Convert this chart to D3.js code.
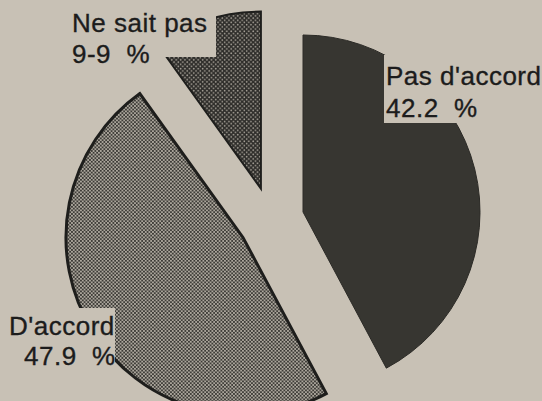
<!DOCTYPE html>
<html>
<head>
<meta charset="utf-8">
<script src="https://cdn.jsdelivr.net/npm/d3@7"></script>
<style>
    body { margin: 0; background: #c8c1b5; }
    text { font-family: "Liberation Sans", Arial, sans-serif; font-size: 26px; fill: #1c1c1c; stroke: #1c1c1c; stroke-width: 0.35px; letter-spacing: 0.5px; }
</style>
</head>
<body>
<svg id="pie" width="542" height="401"></svg>
<script>
// Slices go clockwise from 12 o'clock, in this order
var categories = ["Pas d'accord", "D'accord", "Ne sait pas"];
var values = [42.2, 47.9, 9.9];
// Percent labels as printed (the paper has "9-9")
var pctLabels = ["42.2", "47.9", "9-9"];

function drawPie() {
    var svg = d3.select("#pie");
    var bg = "#c8c1b5";
    var radius = 177, explode = 33;
    var cx = 271, cy = 220;

    // Halftone screens
    var defs = svg.append("defs");
    var light = defs.append("pattern").attr("id", "lightdots").attr("patternUnits", "userSpaceOnUse")
        .attr("width", 3.6).attr("height", 3.6);
    light.append("rect").attr("width", 3.6).attr("height", 3.6).attr("fill", "#bdb7ac");
    [[0, 0], [3.6, 0], [0, 3.6], [3.6, 3.6], [1.8, 1.8]].forEach(p => {
        light.append("circle").attr("cx", p[0]).attr("cy", p[1]).attr("r", 1.05).attr("fill", "#34332f");
    });
    var dark = defs.append("pattern").attr("id", "darkdots").attr("patternUnits", "userSpaceOnUse")
        .attr("width", 4.4).attr("height", 4.4);
    dark.append("rect").attr("width", 4.4).attr("height", 4.4).attr("fill", "#2e2d2a");
    [[1.1, 1.1], [3.3, 3.3]].forEach(p => {
        dark.append("circle").attr("cx", p[0]).attr("cy", p[1]).attr("r", 0.85).attr("fill", "#a9a49a");
    });

    var fills = ["#373631", "url(#lightdots)", "url(#darkdots)"];
    var strokes = ["#2c2b27", "#1e1e1c", "#1e1e1c"];
    var widths = [1, 3, 2];

    var pie = d3.pie().sort(null).value(d => d);
    var arc = d3.arc().innerRadius(0).outerRadius(radius);
    var arcs = pie(values);

    var g = svg.append("g").attr("transform", `translate(${cx},${cy})`);
    g.selectAll("path").data(arcs).enter().append("path")
        .attr("transform", function (d) {
            // push each slice out along its mid angle
            var a = (d.startAngle + d.endAngle) / 2;
            return `translate(${Math.sin(a) * explode},${-Math.cos(a) * explode})`;
        })
        .attr("d", arc)
        .attr("fill", (d, i) => fills[i])
        .attr("stroke", (d, i) => strokes[i])
        .attr("stroke-width", (d, i) => widths[i])
        .attr("stroke-linejoin", "miter");

    // Label blocks sit on paper-coloured boxes that cut into the slices
    var labels = [
        { box: [384, 55, 160, 68], x: 386, y: 85, gap: 32 },
        { box: [0, 308, 115, 55], x: 9, y: 335, gap: 30, x2: 24 },
        { box: [66, 0, 150, 57], x: 72, y: 32, gap: 31 }
    ];
    labels.forEach((l, i) => {
        svg.append("rect").attr("x", l.box[0]).attr("y", l.box[1])
            .attr("width", l.box[2]).attr("height", l.box[3]).attr("fill", bg);
    });
    labels.forEach((l, i) => {
        svg.append("text").attr("x", l.x).attr("y", l.y).text(categories[i]);
        svg.append("text").attr("x", l.x2 || l.x).attr("y", l.y + l.gap)
            .attr("xml:space", "preserve").style("white-space", "pre")
            .text(pctLabels[i] + "  %");
    });
}

drawPie();
</script>
</body>
</html>
